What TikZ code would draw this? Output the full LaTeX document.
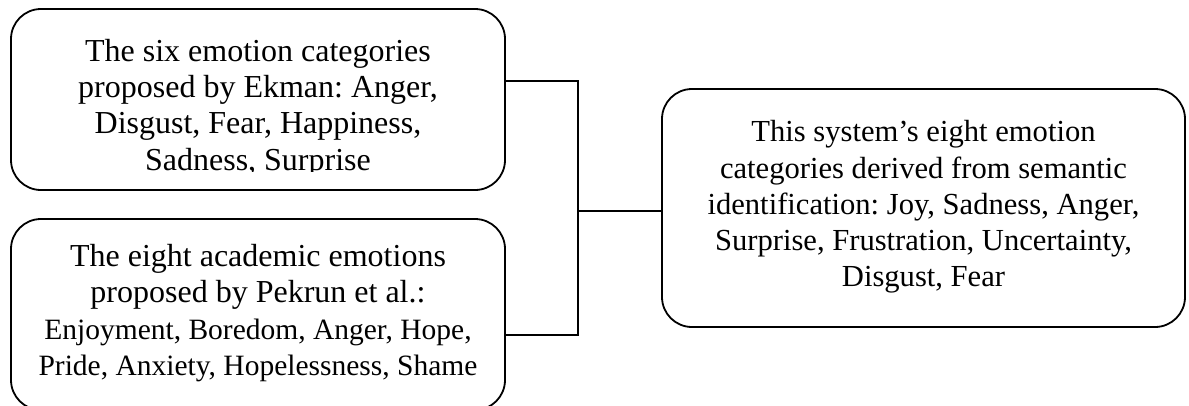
\documentclass[tikz,border=0pt]{standalone}
\usepackage{fontspec}
\setmainfont{Liberation Serif}
\frenchspacing
\begin{document}
\begin{tikzpicture}[x=1pt,y=-1pt,
	box/.style={draw, line width=1.8pt, rounded corners=30pt, inner sep=0pt},
	big/.style={align=center, font=\fontsize{32}{36.3}\selectfont},
	small/.style={align=center, font=\fontsize{30.6}{36.3}\selectfont},
	wire/.style={line width=2pt}]
	\useasboundingbox (0,0) rectangle (1189,405);
	% the two source taxonomies
	\node[box, minimum width=494pt, minimum height=181pt] (ekman) at (258,99.5) {};
	\begin{scope}
		\clip (11,9) rectangle (505,171);
		\node[big] (ekmantext) at (258,108) {The six emotion categories\\proposed by Ekman: Anger,\\Disgust, Fear, Happiness,\\Sadness, Surprise};
	\end{scope}
	\node[box, minimum width=494pt, minimum height=191pt] (pekrun) at (258,314.5) {};
	\node[big] (pekruntext) at (258,313) {The eight academic emotions\\proposed by Pekrun et al.:\\
		{\fontsize{29.5}{36.3}\selectfont Enjoyment, Boredom, Anger, Hope,}\\
		{\fontsize{29.5}{36.3}\selectfont Pride, Anxiety, Hopelessness, Shame}};
	% the system's own categories
	\node[box, minimum width=523pt, minimum height=238pt] (system) at (923.5,208) {};
	\node[small] (systemtext) at (923.5,207) {This system's eight emotion\\categories derived from semantic\\identification: Joy, Sadness, Anger,\\Surprise, Frustration, Uncertainty,\\Disgust, Fear};
	% bracket joining them
	\coordinate (hub) at (578,211);
	\draw[wire] ([yshift=18.5pt]ekman.east) -| (hub);
	\draw[wire] ([yshift=-20.5pt]pekrun.east) -| (hub);
	\draw[wire] (hub) -- (hub -| system.west);
\end{tikzpicture}
\end{document}
